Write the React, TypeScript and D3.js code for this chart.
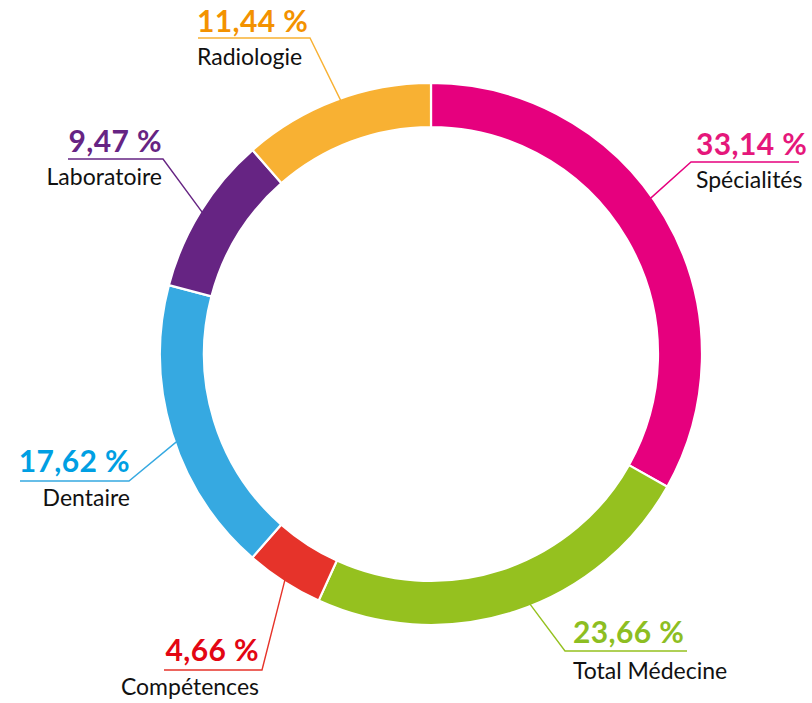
import React from "react";
import * as d3 from "d3";

const categories = ["Spécialités", "Total Médecine", "Compétences", "Dentaire", "Laboratoire", "Radiologie"];
const values = [33.14, 23.66, 4.66, 17.62, 9.47, 11.44];
const valueLabels = ["33,14 %", "23,66 %", "4,66 %", "17,62 %", "9,47 %", "11,44 %"];
const sliceColors = ["#E6007E", "#95C11F", "#E6332A", "#36A9E1", "#662483", "#F8B133"];
const textColors = ["#E5177B", "#8DBE22", "#E30613", "#009FE3", "#662483", "#F39200"];

// label layout: elbow point, underline end, text anchor x, baselines, anchor angle tweak (deg)
const labelLayout = [
  { ex: 691, ey: 162, ux: 799, tx: 696, anchor: "start", pb: 155, lb: 188, shift: -5 },
  { ex: 565, ey: 651, ux: 687, tx: 573, anchor: "start", pb: 643, lb: 679, shift: -3.5 },
  { ex: 262, ey: 670, ux: 164, tx: 259, anchor: "end", pb: 661, lb: 695, shift: 0 },
  { ex: 129, ey: 481, ux: 20, tx: 130, anchor: "end", pb: 472, lb: 506, shift: -2 },
  { ex: 163, ey: 159, ux: 68, tx: 162, anchor: "end", pb: 152, lb: 185, shift: 0 },
  { ex: 310, ey: 38, ux: 198, tx: 197, anchor: "start", pb: 32, lb: 65, shift: 1 },
];

const W = 812;
const H = 703;
const cx = 431;
const cy = 354;
const outerR = 271;
const innerR = 227;

export default function App() {
  const pie = d3.pie<number>().sort(null).value((d) => d)(values);
  const arc = d3.arc<d3.PieArcDatum<number>>().innerRadius(innerR).outerRadius(outerR);

  return (
    <svg
      width={W}
      height={H}
      style={{ position: "absolute", left: 0, top: 0, background: "#fff" }}
      fontFamily="Lato, 'Open Sans', sans-serif"
    >
      <g transform={`translate(${cx},${cy})`}>
        {pie.map((p, i) => (
          <path key={i} d={arc(p) || ""} fill={sliceColors[i]} stroke="#fff" strokeWidth={2.2} />
        ))}
      </g>
      {pie.map((p, i) => {
        const L = labelLayout[i];
        const a = (p.startAngle + p.endAngle) / 2 + (L.shift * Math.PI) / 180;
        const ax = cx + (outerR - 2) * Math.sin(a);
        const ay = cy - (outerR - 2) * Math.cos(a);
        return (
          <g key={i}>
            <polyline
              points={`${ax},${ay} ${L.ex},${L.ey} ${L.ux},${L.ey}`}
              fill="none"
              stroke={sliceColors[i]}
              strokeWidth={1.4}
            />
            <text
              x={L.tx}
              y={L.pb}
              textAnchor={L.anchor}
              fill={textColors[i]}
              fontWeight={700}
              fontSize={30}
              letterSpacing={0.4}
            >
              {valueLabels[i]}
            </text>
            <text x={L.tx} y={L.lb} textAnchor={L.anchor} fill="#111" fontSize={23}>
              {categories[i]}
            </text>
          </g>
        );
      })}
    </svg>
  );
}
